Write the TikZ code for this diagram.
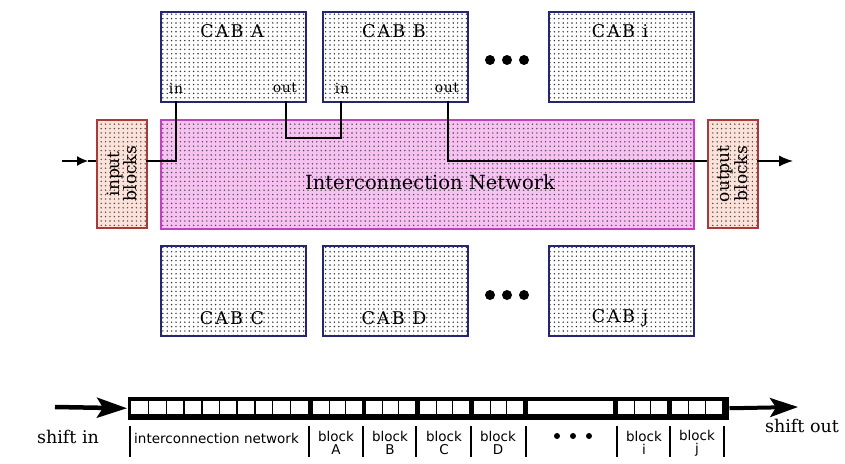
\documentclass[tikz,border=0pt]{standalone}
\usepackage{fontspec}
\setmainfont{DejaVu Serif}
\setsansfont{DejaVu Sans}
\usetikzlibrary{patterns.meta,arrows.meta,calc}

\definecolor{cabline}{HTML}{262670}
\definecolor{netfill}{HTML}{F7C2F2}
\definecolor{netline}{HTML}{C040C0}
\definecolor{iofill}{HTML}{FDE2DA}
\definecolor{ioline}{HTML}{A83A3A}

% square grid of dots used as the fill texture of all blocks
\tikzdeclarepattern{
  name=dotgrid, type=uncolored,
  bottom left={(-1pt,-1pt)}, top right={(3.4pt,3.4pt)},
  tile size={(4.4pt,4.4pt)},
  code={\fill (0pt,0pt) circle (0.8pt);}
}

\begin{document}
\begin{tikzpicture}[x=1pt,y=-1pt,
  box/.style={inner sep=0pt, anchor=north west, line width=1.5pt},
  cab/.style={box, draw=cabline, preaction={fill=white},
    pattern=dotgrid, pattern color=black!80,
    minimum width=145pt, minimum height=90pt},
  net/.style={box, draw=netline, preaction={fill=netfill},
    pattern=dotgrid, pattern color=black!70,
    minimum width=533pt, minimum height=109pt},
  io/.style={box, draw=ioline, preaction={fill=iofill},
    pattern=dotgrid, pattern color=black!70,
    minimum width=50pt, minimum height=108pt},
  cabtxt/.style={font=\fontsize{17.5}{17}\selectfont\addfontfeature{LetterSpace=12}, text=black},
  port/.style={font=\fontsize{14}{14}\selectfont\addfontfeature{LetterSpace=4}, inner sep=0pt},
  iotxt/.style={rotate=90, align=center, font=\fontsize{17}{16}\selectfont},
  wire/.style={line width=1.2pt},
  bigdot/.style={circle, fill=black, inner sep=0pt, minimum size=10pt},
  smalldot/.style={circle, fill=black, inner sep=0pt, minimum size=6pt},
  celllbl/.style={font=\sffamily\fontsize{13.5}{13}\selectfont, align=center, inner sep=0pt},
  tick/.style={line width=1.4pt},
  serif/.style={font=\fontsize{17.5}{18}\selectfont, inner sep=0pt}
]
\useasboundingbox (0,0) rectangle (845,463);

% ---- computational analog blocks ----
\node[cab] (cabA) at (160,11) {};
\node[cab] (cabB) at (322,11) {};
\node[cab] (cabI) at (548,11) {};
\node[cab] (cabC) at (160,245) {};
\node[cab] (cabD) at (322,245) {};
\node[cab] (cabJ) at (548,245) {};

\node[cabtxt] (tA) at (232,31) {CAB A};
\node[cabtxt] (tB) at (394,31) {CAB B};
\node[cabtxt] (tI) at (620,31) {CAB i};
\node[cabtxt] (tC) at (232,318) {CAB C};
\node[cabtxt] (tD) at (394,318) {CAB D};
\node[cabtxt] (tJ) at (620,318) {CAB j};

\node[port] (pAin)  at (176,88) {in};
\node[port] (pAout) at (285,88) {out};
\node[port] (pBin)  at (342,88) {in};
\node[port] (pBout) at (447,88) {out};

\node[bigdot] (d1) at (490,60) {};
\node[bigdot] (d2) at (507,60) {};
\node[bigdot] (d3) at (524,60) {};
\node[bigdot] (d4) at (490,295) {};
\node[bigdot] (d5) at (507,295) {};
\node[bigdot] (d6) at (524,295) {};

% ---- interconnection network and I/O blocks ----
\node[net] (net) at (160,119) {};
\node[font=\fontsize{19.5}{20}\selectfont] (nettxt) at (430,182) {Interconnection Network};

\node[io] (inblk)  at (96,119) {};
\node[io] (outblk) at (707,119) {};
\node[iotxt] (intxt)  at (inblk.center)  {input\\blocks};
\node[iotxt] (outtxt) at (outblk.center) {output\\blocks};

% port positions on the block edges
\coordinate (aIn)  at (176,101);
\coordinate (aOut) at (286,101);
\coordinate (bIn)  at (341,101);
\coordinate (bOut) at (448,101);
\coordinate (inR)  at (146,161);
\coordinate (inL)  at (96,161);
\coordinate (outL) at (707,161);
\coordinate (outR) at (757,161);
\coordinate (srcL) at (62,161);
\coordinate (midL) at (88,161);
\coordinate (dstR) at (793,161);

\draw[wire] (aIn) |- (inR);
\draw[wire] (aOut) -- ++(0,37) -| (bIn);
\draw[wire] (bOut) |- (outL);
\draw[wire, -{Latex[length=11pt,width=10pt]}] (srcL) -- (midL);
\draw[wire] (midL) -- (inL);
\draw[wire, -{Latex[length=14pt,width=11pt]}] (outR) -- (dstR);

% ---- configuration shift register ----
\node[box, fill=black, minimum width=601pt, minimum height=23pt] (reg) at (127,396) {};
\foreach \a/\b/\n in {131/308/10, 313/362/3, 366/415/3, 420/469/3, 474/523/3, 618/667/3, 672/722/3}{
  \fill[white] (\a,401) rectangle (\b,414);
  \pgfmathsetmacro{\w}{(\b-\a)/\n}
  \pgfmathtruncatemacro{\m}{\n-1}
  \foreach \k in {1,...,\m}{
    \draw[line width=1.5pt] ({\a+\k*\w},401) -- ({\a+\k*\w},414);
  }
}
\fill[white] (528,401) rectangle (613,414);

\coordinate (shinL) at (55,407);
\coordinate (shoutR) at (798,407);
\draw[line width=4.5pt, -{Stealth[length=30pt,width=20pt,inset=6pt]}] (shinL) -- (reg.west);
\draw[line width=4pt, -{Stealth[length=28pt,width=19pt,inset=6pt]}] (reg.east) -- (shoutR);

\node[serif] (shin) at (68,437) {shift in};
\node[serif] (shout) at (802,426) {shift out};

\foreach \x in {130,309,363,416,471,526,617,670,724}{
  \draw[tick] (\x,426) -- (\x,457);
}
\node[celllbl, anchor=west] (lnet) at (134,438) {interconnection network};
\node[celllbl] (lA) at (336,443) {block\\A};
\node[celllbl] (lB) at (390,443) {block\\B};
\node[celllbl] (lC) at (444,443) {block\\C};
\node[celllbl] (lD) at (498,443) {block\\D};
\node[celllbl] (lI) at (644,443) {block\\i};
\node[celllbl] (lJ) at (697,443) {block\\j};
\node[smalldot] (e1) at (557,436) {};
\node[smalldot] (e2) at (573,436) {};
\node[smalldot] (e3) at (589,436) {};
\end{tikzpicture}
\end{document}
